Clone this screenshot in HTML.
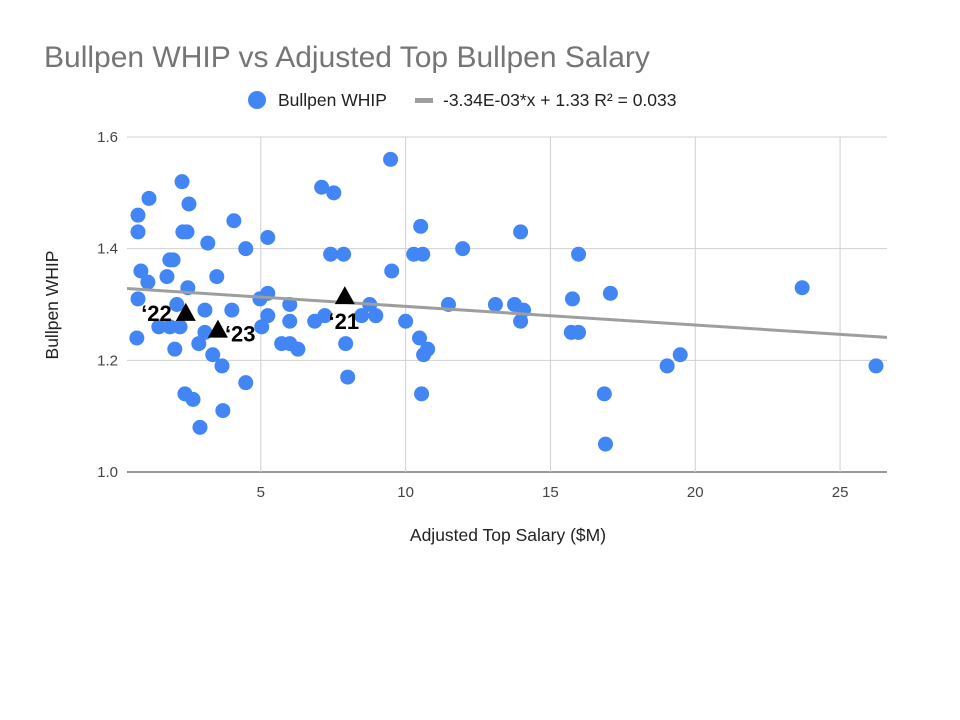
<!DOCTYPE html>
<html><head><meta charset="utf-8"><style>
body{margin:0;background:#fff;}
svg{display:block;font-family:"Liberation Sans",Arial,sans-serif;}
</style></head><body>
<svg id="chart" width="960" height="720">
<text x="44" y="67" font-size="30" fill="#757575">Bullpen WHIP vs Adjusted Top Bullpen Salary</text>
<g>
<circle cx="257" cy="100" r="9" fill="#4285f4"/>
<text x="278" y="106" font-size="17.5" fill="#222">Bullpen WHIP</text>
<rect x="415" y="98" width="18" height="5" fill="#9e9e9e"/>
<text x="443" y="106" font-size="17.5" fill="#222">-3.34E-03*x + 1.33 R² = 0.033</text>
</g>
<text x="58" y="305" font-size="17.5" fill="#222" transform="rotate(-90 58 305)" text-anchor="middle">Bullpen WHIP</text>
<text x="508" y="541" font-size="17.5" fill="#222" text-anchor="middle">Adjusted Top Salary ($M)</text>
<g id="grid"></g><g id="marks"></g>
</svg>
<script>
const xTicks=[5,10,15,20,25];
const yTicks=[1.0,1.2,1.4,1.6];
const salaries=[0.76,0.76,1.14,2.28,2.52,2.31,2.45,4.07,3.17,4.48,5.24,0.86,1.10,1.86,1.97,1.76,3.48,2.48,0.76,2.10,4.00,4.97,5.24,6.0,5.24,6.0,1.48,1.86,2.21,3.07,5.03,2.86,0.72,2.03,3.34,3.66,4.48,2.38,2.66,3.69,2.90,5.72,6.0,6.28,3.07,7.10,7.52,9.48,7.41,7.86,9.52,6.86,7.21,7.93,8.0,8.76,8.97,10.0,10.28,10.52,10.59,10.48,10.62,10.76,10.55,11.97,11.48,13.10,13.76,14.07,13.97,13.97,15.76,15.72,15.97,15.97,17.07,16.86,16.90,19.03,19.48,23.69,26.24,8.48];
const whips=[1.46,1.43,1.49,1.52,1.48,1.43,1.43,1.45,1.41,1.40,1.42,1.36,1.34,1.38,1.38,1.35,1.35,1.33,1.31,1.30,1.29,1.31,1.32,1.30,1.28,1.27,1.26,1.26,1.26,1.25,1.26,1.23,1.24,1.22,1.21,1.19,1.16,1.14,1.13,1.11,1.08,1.23,1.23,1.22,1.29,1.51,1.50,1.56,1.39,1.39,1.36,1.27,1.28,1.23,1.17,1.30,1.28,1.27,1.39,1.44,1.39,1.24,1.21,1.22,1.14,1.40,1.30,1.30,1.30,1.29,1.27,1.43,1.31,1.25,1.25,1.39,1.32,1.14,1.05,1.19,1.21,1.33,1.19,1.28];
const seasonLabels=["‘22","‘23","‘21"];
const seasonX=[2.41,3.52,7.90];
const seasonY=[1.285,1.255,1.315];
const slope=-0.00334, intercept=1.33;
const X0=0.38,X1=26.62,Y0=1.0,Y1=1.6,L=127,R=887,T=137,B=472;
const sx=v=>L+(v-X0)/(X1-X0)*(R-L);
const sy=v=>B-(v-Y0)/(Y1-Y0)*(B-T);
const NS="http://www.w3.org/2000/svg";
const grid=document.getElementById('grid'),marks=document.getElementById('marks');
function mk(tag,attrs,parent){const e=document.createElementNS(NS,tag);for(const k in attrs)e.setAttribute(k,attrs[k]);parent.appendChild(e);return e;}
yTicks.forEach(t=>{
 const l=mk('line',{x1:L,x2:R,y1:sy(t),y2:sy(t),stroke:t===Y0?'#333':'#d0d0d0','stroke-width':1},grid);
 
 
 const tx=mk('text',{x:118,y:sy(t)+5,'font-size':15,fill:'#444','text-anchor':'end'},grid);
 tx.textContent=t.toFixed(1);
 
 
});
xTicks.forEach(t=>{
 const l=mk('line',{x1:sx(t),x2:sx(t),y1:T,y2:B,stroke:'#d0d0d0','stroke-width':1},grid);
 
 
 const tx=mk('text',{x:sx(t),y:497,'font-size':15,fill:'#444','text-anchor':'middle'},grid);
 tx.textContent=t;
 
 
});
salaries.forEach((v,i)=>{
 const c=mk('circle',{cx:sx(v),cy:sy(whips[i]),r:7.5,fill:'#4285f4'},marks);
 
 
});
const tl=mk('line',{x1:sx(X0),y1:sy(slope*X0+intercept),x2:sx(X1),y2:sy(slope*X1+intercept),stroke:'#9e9e9e','stroke-width':3},marks);


const offs=[[-14,8,'end'],[7,12,'start'],[-1,33,'middle']];
seasonX.forEach((v,i)=>{
 const x=sx(v),y=sy(seasonY[i]);
 const p=mk('polygon',{points:`${x},${y-10} ${x-10},${y+8} ${x+10},${y+8}`,fill:'#000'},marks);
 
 
 const t=mk('text',{x:x+offs[i][0],y:y+offs[i][1],'font-size':22,'font-weight':'bold',fill:'#000','text-anchor':offs[i][2]},marks);
 t.textContent=seasonLabels[i];
 
 
});
</script>
</body></html>
